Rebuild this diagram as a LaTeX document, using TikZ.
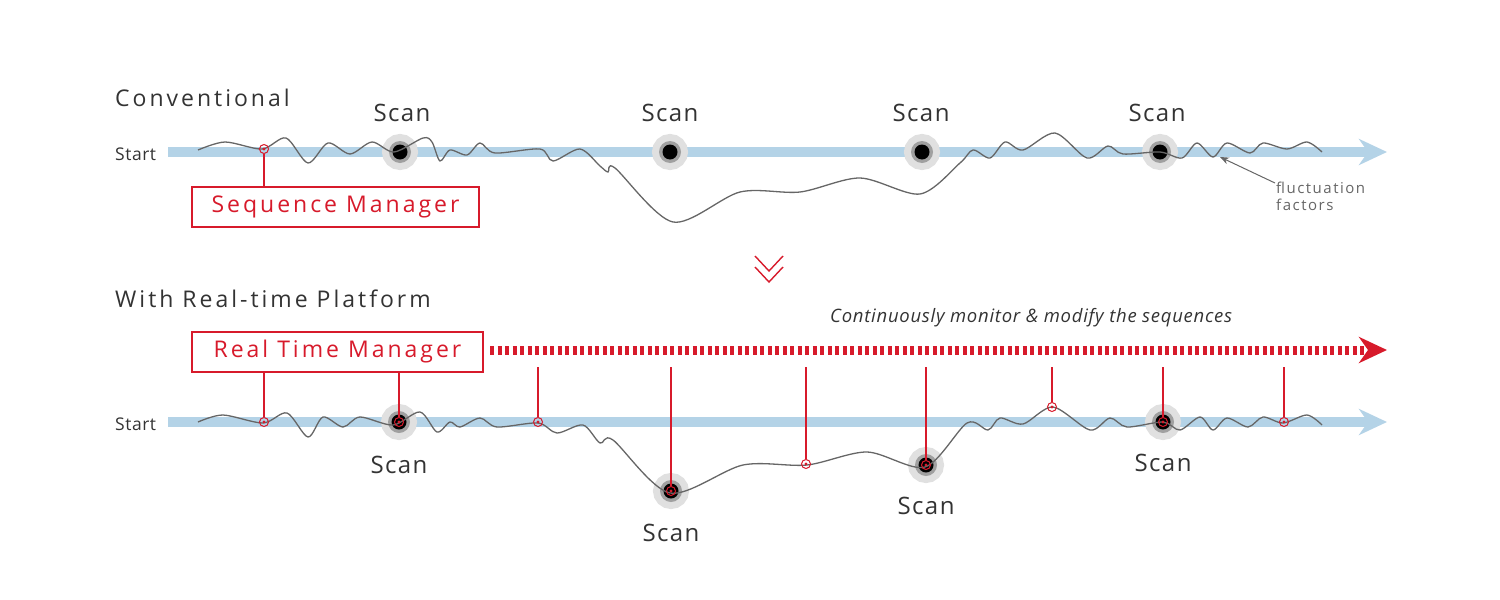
\documentclass[tikz,border=0pt]{standalone}
\usepackage{fontspec}
\setmainfont{Open Sans}
\newfontfamily\headfont[LetterSpace=13]{Open Sans}
\newfontfamily\scanfont[LetterSpace=6]{Open Sans}
\newfontfamily\mgrfont[LetterSpace=13]{Open Sans}
\newfontfamily\smallfont[LetterSpace=3]{Open Sans}
\newfontfamily\fluctfont[LetterSpace=10]{Open Sans}
\newfontfamily\itfont[LetterSpace=4]{Open Sans Italic}
\usetikzlibrary{arrows.meta}
\definecolor{barblue}{HTML}{B4D3E7}
\definecolor{rred}{HTML}{D71A2B}
\definecolor{txt}{HTML}{333333}
\definecolor{wave}{HTML}{666666}
\definecolor{haloA}{HTML}{E0E0E0}
\definecolor{haloB}{HTML}{A0A0A0}
\begin{document}
\begin{tikzpicture}[x=1pt,y=-1pt,
  bar/.style={barblue, line width=10pt, -{Stealth[length=28pt,width=26pt,inset=9pt]}},
  redarrow/.style={rred, line width=9pt, dash pattern=on 4pt off 3.5pt, -{Stealth[length=28pt,width=26pt,inset=9pt]}},
  wavy/.style={wave, line width=1.3pt},
  scan/.style={circle, inner sep=0pt, minimum size=22pt, fill=haloB,
    preaction={draw=haloA, line width=14pt},
    path picture={\fill[black] (path picture bounding box.center) circle (7.5pt);}},
  redpt/.style={circle, draw=rred, line width=1pt, minimum size=9pt, inner sep=0pt,
    path picture={\fill[rred] (path picture bounding box.center) circle (1.6pt);}},
  mgrbox/.style={draw=rred, line width=1.4pt, text=rred, minimum height=40pt, inner sep=0pt,
    font=\mgrfont\fontsize{23}{27}\selectfont},
  redline/.style={rred, line width=1.3pt},
  scanlbl/.style={text=txt, anchor=base, inner sep=0pt, font=\scanfont\fontsize{24}{28}\selectfont},
  headlbl/.style={text=txt, anchor=base west, inner sep=0pt, font=\headfont\fontsize{23}{27}\selectfont},
  startlbl/.style={text=txt, anchor=base west, inner sep=0pt, font=\smallfont\fontsize{17.5}{21}\selectfont},
  fluctlbl/.style={text=wave, anchor=base west, inner sep=0pt, font=\fluctfont\fontsize{15}{18}\selectfont},
  chev/.style={rred, line width=1.4pt}
]
\useasboundingbox (0,0) rectangle (1500,600);

% ---------- Conventional ----------
\node[headlbl] (conv) at (115,106) {Conventional};
\node[startlbl] (start1) at (115,160) {Start};
\coordinate (bar1a) at (168,152);
\coordinate (bar1b) at (1387,152);
\draw[bar] (bar1a) -- (bar1b);

\node[scan] (s1) at (400,152) {};
\node[scan] (s2) at (670,152) {};
\node[scan] (s3) at (922,152) {};
\node[scan] (s4) at (1160,152) {};

\draw[wavy] plot[smooth, tension=0.5] coordinates {
 (198,150) (225,142) (262,149) (286,138) (308,163) (328,143) (350,154) (372,142)
 (394,152) (423,138) (432,142) (440,161) (450,150) (467,155) (480,143) (495,153)
 (540,149) (553,161) (580,149) (600,166) (608,172) (615,168) (673,222) (740,192)
 (800,192) (860,178) (920,194) (960,163) (973,150) (990,158) (1005,142) (1023,150)
 (1055,133) (1087,158) (1108,146) (1123,154) (1160,152) (1182,158) (1197,143)
 (1213,157) (1227,143) (1250,153) (1263,143) (1287,149) (1307,142) (1322,152)};

\node[scanlbl] (ls1) at (402,121) {Scan};
\node[scanlbl] (ls2) at (670,121) {Scan};
\node[scanlbl] (ls3) at (921,121) {Scan};
\node[scanlbl] (ls4) at (1157,121) {Scan};

\node[redpt] (p0) at (264,149) {};
\node[mgrbox, minimum width=287pt] (seq) at (335.5,207) {Sequence Manager};
\draw[redline] (seq.north -| p0) -- (p0);

% fluctuation
\coordinate (fa) at (1275,183);
\coordinate (fb) at (1220,157);
\draw[wave, line width=1pt, -{Stealth[length=9pt,width=7pt]}] (fa) -- (fb);
\node[fluctlbl] (fl1) at (1276,193) {fluctuation};
\node[fluctlbl] (fl2) at (1276,210) {factors};

% chevrons
\draw[chev] (755,256) -- (769,271) -- (783,256);
\draw[chev] (755,267) -- (769,282) -- (783,267);

% ---------- With Real-time Platform ----------
\node[headlbl] (rtp) at (115,307) {With Real-time Platform};
\node[text=txt, anchor=base west, inner sep=0pt, font=\itfont\fontsize{18.5}{22}\selectfont] (cont) at (830,322) {Continuously monitor \& modify the sequences};

\node[mgrbox, minimum width=291pt] (rtm) at (337.5,352) {Real Time Manager};
\coordinate (ra) at (490,350);
\coordinate (rb) at (1387,350);
\draw[redarrow] (ra) -- (rb);

\node[startlbl] (start2) at (115,430) {Start};
\coordinate (bar2a) at (168,422);
\coordinate (bar2b) at (1387,422);
\draw[bar] (bar2a) -- (bar2b);

\node[scan] (b1) at (399,422) {};
\node[scan] (b2) at (671,491) {};
\node[scan] (b3) at (926,465) {};
\node[scan] (b4) at (1163,422) {};

\draw[wavy] plot[smooth, tension=0.5] coordinates {
 (198,422) (223,415) (263,423) (287,413) (308,437) (323,417) (343,427) (360,417)
 (393,425) (420,412) (437,432) (450,422) (460,427) (480,418) (497,427) (538,423)
 (557,433) (583,425) (600,443) (613,440) (670,493) (743,465) (807,465) (867,452)
 (925,467) (967,423) (988,430) (1000,418) (1023,424) (1053,407) (1090,430)
 (1110,418) (1127,427) (1163,422) (1180,430) (1200,417) (1213,430) (1227,418)
 (1248,427) (1263,417) (1283,423) (1307,415) (1322,425)};

\node[redpt] (q1) at (264,422) {};
\node[redpt] (qb1) at (399,422) {};
\node[redpt] (q2) at (538,422) {};
\node[redpt] (qb2) at (671,491) {};
\node[redpt] (q3) at (806,464) {};
\node[redpt] (qb3) at (926,465) {};
\node[redpt] (q4) at (1052,407) {};
\node[redpt] (qb4) at (1163,422) {};
\node[redpt] (q5) at (1284,422) {};

\coordinate (t2) at (538,367);
\coordinate (tb2) at (671,367);
\coordinate (t3) at (806,367);
\coordinate (tb3) at (926,367);
\coordinate (t4) at (1052,367);
\coordinate (tb4) at (1163,367);
\coordinate (t5) at (1284,367);

\draw[redline] (rtm.south -| q1) -- (q1);
\draw[redline] (rtm.south -| qb1) -- (qb1);
\draw[redline] (t2) -- (q2);
\draw[redline] (tb2) -- (qb2);
\draw[redline] (t3) -- (q3);
\draw[redline] (tb3) -- (qb3);
\draw[redline] (t4) -- (q4);
\draw[redline] (tb4) -- (qb4);
\draw[redline] (t5) -- (q5);

\node[scanlbl] (lb1) at (399,473) {Scan};
\node[scanlbl] (lb2) at (671,541) {Scan};
\node[scanlbl] (lb3) at (926,514) {Scan};
\node[scanlbl] (lb4) at (1163,471) {Scan};
\end{tikzpicture}
\end{document}
